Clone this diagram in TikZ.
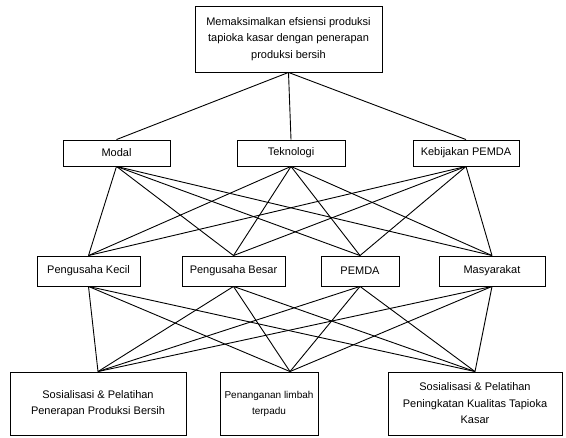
\documentclass[tikz,border=0pt]{standalone}
\usepackage{fontspec}
\setmainfont{Liberation Sans}
\usetikzlibrary{positioning}
\usetikzlibrary{calc}

\begin{document}
\begin{tikzpicture}[x=1pt, y=-1pt, line width=0.9pt, every node/.style={draw, rectangle, align=center, inner sep=0pt, font=\fontsize{11}{16.5}\selectfont}]
          \useasboundingbox (0,0) rectangle (566,438);

          \node[minimum width=187pt, minimum height=66pt] (goal) at (288.5, 39) {Memaksimalkan efsiensi produksi\\tapioka kasar dengan penerapan\\produksi bersih};

          \node[minimum width=107pt, minimum height=26pt] (modal) at (116.5, 153) {Modal};
          \node[minimum width=108pt, minimum height=26pt] (tek) at (291, 153) {Teknologi};
          \node[minimum width=106pt, minimum height=26pt] (kebijakan) at (466, 153) {Kebijakan PEMDA};

          \node[minimum width=103pt, minimum height=30pt] (pk) at (88.5, 271) {Pengusaha Kecil};
          \node[minimum width=103pt, minimum height=30pt] (pb) at (233.5, 271) {Pengusaha Besar};
          \node[minimum width=78pt, minimum height=30pt] (pemda) at (360, 271) {PEMDA};
          \node[minimum width=106pt, minimum height=30pt] (masy) at (492, 271) {Masyarakat};

          \node[minimum width=176pt, minimum height=63pt] (sos1) at (98, 403.5) {Sosialisasi \& Pelatihan\\Penerapan Produksi Bersih};
          \node[minimum width=98pt, minimum height=63pt, font=\fontsize{10}{16}\selectfont] (limbah) at (269, 403.5) {Penanganan limbah\\terpadu};
          \node[minimum width=174pt, minimum height=63pt] (sos2) at (475, 403.5) {Sosialisasi \& Pelatihan\\Peningkatan Kualitas Tapioka\\Kasar};

          \coordinate (limbahtop) at ($(limbah.north)+(21,0)$);

          \draw (goal.south) -- (modal.north);
          \draw (goal.south) -- (tek.north);
          \draw (goal.south) -- (kebijakan.north);

          \draw (modal.south) -- (pk.north);
          \draw (modal.south) -- (pb.north);
          \draw (modal.south) -- (pemda.north);
          \draw (modal.south) -- (masy.north);
          \draw (tek.south) -- (pk.north);
          \draw (tek.south) -- (pb.north);
          \draw (tek.south) -- (pemda.north);
          \draw (tek.south) -- (masy.north);
          \draw (kebijakan.south) -- (pk.north);
          \draw (kebijakan.south) -- (pb.north);
          \draw (kebijakan.south) -- (pemda.north);
          \draw (kebijakan.south) -- (masy.north);

          \draw (pk.south) -- (sos1.north);
          \draw (pk.south) -- (limbahtop);
          \draw (pk.south) -- (sos2.north);
          \draw (pb.south) -- (sos1.north);
          \draw (pb.south) -- (limbahtop);
          \draw (pb.south) -- (sos2.north);
          \draw (pemda.south) -- (sos1.north);
          \draw (pemda.south) -- (limbahtop);
          \draw (pemda.south) -- (sos2.north);
          \draw (masy.south) -- (sos1.north);
          \draw (masy.south) -- (limbahtop);
          \draw (masy.south) -- (sos2.north);
        \end{tikzpicture}
\end{document}
